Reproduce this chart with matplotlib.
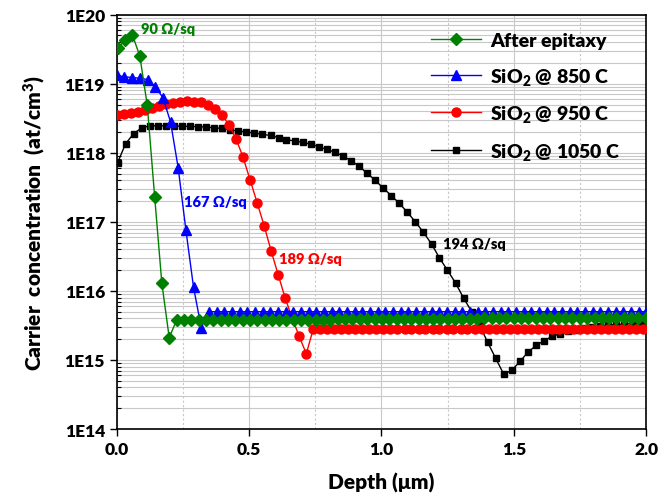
import matplotlib
matplotlib.use("Agg")
from matplotlib import pyplot as plt
from matplotlib.ticker import FixedLocator, LogLocator, NullFormatter

plt.rcParams["font.family"] = ["Lato", "DejaVu Sans"]
plt.rcParams["font.weight"] = "heavy"
plt.rcParams["mathtext.default"] = "regular"

W = "heavy"

# ---- data ----
depth_epi = [0.004, 0.032, 0.059, 0.087, 0.115, 0.143, 0.170, 0.198, 0.226, 0.253,
             0.281, 0.309, 0.336, 0.364, 0.392, 0.420, 0.447, 0.475, 0.503, 0.530,
             0.558, 0.586, 0.613, 0.641, 0.669, 0.697, 0.724, 0.752, 0.780, 0.807,
             0.835, 0.863, 0.890, 0.918, 0.946, 0.974, 1.001, 1.029, 1.057, 1.084,
             1.112, 1.140, 1.167, 1.195, 1.223, 1.251, 1.278, 1.306, 1.334, 1.361,
             1.389, 1.417, 1.444, 1.472, 1.500, 1.528, 1.555, 1.583, 1.611, 1.638,
             1.666, 1.694, 1.721, 1.749, 1.777, 1.805, 1.832, 1.860, 1.888, 1.915,
             1.943, 1.971, 1.998]
conc_epi = [3.3e19, 4.3e19, 5.1e19, 2.5e19, 4.9e18, 2.3e17, 1.3e16, 2.1e15, 3.8e15, 3.8e15,
            3.8e15, 3.8e15, 3.8e15, 3.8e15, 3.8e15, 3.8e15, 3.8e15, 3.8e15, 3.8e15, 3.8e15,
            3.8e15, 3.8e15, 3.8e15, 3.8e15, 3.8e15, 3.8e15, 3.8e15, 3.8e15, 3.8e15, 3.8e15,
            3.9e15, 3.9e15, 3.9e15, 3.9e15, 3.9e15, 3.9e15, 3.9e15, 3.9e15, 3.9e15, 3.9e15,
            3.9e15, 3.9e15, 3.9e15, 3.9e15, 3.9e15, 3.9e15, 3.9e15, 3.9e15, 3.9e15, 3.9e15,
            4.0e15, 4.0e15, 4.0e15, 4.0e15, 4.0e15, 4.0e15, 4.0e15, 4.0e15, 4.0e15, 4.0e15,
            4.0e15, 4.0e15, 4.0e15, 4.0e15, 4.0e15, 4.0e15, 4.0e15, 4.0e15, 4.0e15, 4.0e15,
            4.0e15, 4.0e15, 4.0e15]

depth_850 = [0.000, 0.029, 0.058, 0.087, 0.116, 0.145, 0.174, 0.203, 0.232, 0.261,
             0.290, 0.319, 0.348, 0.377, 0.406, 0.435, 0.464, 0.493, 0.522, 0.551,
             0.580, 0.609, 0.638, 0.667, 0.696, 0.725, 0.754, 0.783, 0.812, 0.841,
             0.870, 0.899, 0.928, 0.957, 0.986, 1.015, 1.044, 1.073, 1.102, 1.131,
             1.160, 1.189, 1.218, 1.247, 1.276, 1.305, 1.334, 1.363, 1.392, 1.421,
             1.450, 1.479, 1.508, 1.537, 1.566, 1.595, 1.624, 1.653, 1.682, 1.711,
             1.740, 1.769, 1.798, 1.827, 1.856, 1.885, 1.914, 1.943, 1.972, 2.001]
conc_850 = [1.32e19, 1.26e19, 1.23e19, 1.20e19, 1.15e19, 9.1e18, 6.3e18, 2.8e18, 6.0e17, 7.6e16,
            1.12e16, 2.95e15, 5.0e15, 5.0e15, 5.0e15, 5.0e15, 5.0e15, 5.0e15, 5.0e15, 5.0e15,
            5.0e15, 5.0e15, 5.0e15, 5.0e15, 5.0e15, 5.0e15, 5.0e15, 5.0e15, 5.0e15, 5.0e15,
            5.0e15, 5.0e15, 5.0e15, 5.0e15, 5.0e15, 5.0e15, 5.0e15, 5.0e15, 5.0e15, 5.0e15,
            5.0e15, 5.0e15, 5.0e15, 5.0e15, 5.0e15, 5.0e15, 5.0e15, 5.0e15, 5.0e15, 5.0e15,
            5.0e15, 5.0e15, 5.0e15, 5.0e15, 5.0e15, 5.0e15, 5.0e15, 5.0e15, 5.0e15, 5.0e15,
            5.0e15, 5.0e15, 5.0e15, 5.0e15, 5.0e15, 5.0e15, 5.0e15, 5.0e15, 5.0e15, 5.0e15]

depth_950 = [0.000, 0.027, 0.053, 0.080, 0.106, 0.133, 0.159, 0.186, 0.212, 0.239,
             0.265, 0.292, 0.318, 0.345, 0.371, 0.398, 0.424, 0.451, 0.477, 0.504,
             0.530, 0.557, 0.583, 0.610, 0.636, 0.663, 0.689, 0.716, 0.742, 0.769,
             0.795, 0.822, 0.848, 0.875, 0.901, 0.928, 0.954, 0.981, 1.007, 1.034,
             1.060, 1.087, 1.113, 1.140, 1.166, 1.193, 1.219, 1.246, 1.272, 1.299,
             1.325, 1.352, 1.378, 1.405, 1.431, 1.458, 1.484, 1.511, 1.537, 1.564,
             1.590, 1.617, 1.643, 1.670, 1.696, 1.723, 1.749, 1.776, 1.802, 1.829,
             1.855, 1.882, 1.908, 1.935, 1.961, 1.988]
conc_950 = [3.52e18, 3.65e18, 3.77e18, 3.94e18, 4.21e18, 4.50e18, 4.81e18, 5.09e18, 5.33e18, 5.50e18,
            5.57e18, 5.50e18, 5.38e18, 4.92e18, 4.31e18, 3.52e18, 2.53e18, 1.58e18, 8.6e17, 4.0e17,
            1.9e17, 8.7e16, 3.8e16, 1.7e16, 7.9e15, 4.0e15, 2.2e15, 1.23e15, 2.8e15, 2.8e15,
            2.8e15, 2.8e15, 2.8e15, 2.8e15, 2.8e15, 2.8e15, 2.8e15, 2.8e15, 2.8e15, 2.8e15,
            2.8e15, 2.8e15, 2.8e15, 2.8e15, 2.8e15, 2.8e15, 2.8e15, 2.8e15, 2.8e15, 2.8e15,
            2.8e15, 2.8e15, 2.8e15, 2.8e15, 2.8e15, 2.8e15, 2.8e15, 2.8e15, 2.8e15, 2.8e15,
            2.8e15, 2.8e15, 2.8e15, 2.8e15, 2.8e15, 2.8e15, 2.8e15, 2.8e15, 2.8e15, 2.8e15,
            2.8e15, 2.8e15, 2.8e15, 2.8e15, 2.8e15, 2.8e15]

depth_1050 = [0.003, 0.033, 0.064, 0.094, 0.125, 0.155, 0.185, 0.216, 0.246, 0.277,
              0.307, 0.337, 0.368, 0.398, 0.429, 0.459, 0.489, 0.520, 0.550, 0.581,
              0.611, 0.641, 0.672, 0.702, 0.733, 0.763, 0.793, 0.824, 0.854, 0.885,
              0.915, 0.945, 0.976, 1.006, 1.037, 1.067, 1.097, 1.128, 1.158, 1.189,
              1.219, 1.249, 1.280, 1.310, 1.341, 1.371, 1.401, 1.432, 1.462, 1.493,
              1.523, 1.553, 1.584, 1.614, 1.645, 1.675, 1.705, 1.736, 1.766, 1.797,
              1.827, 1.857, 1.888, 1.918, 1.949, 1.979]
conc_1050 = [7.2e17, 1.35e18, 1.9e18, 2.3e18, 2.45e18, 2.46e18, 2.45e18, 2.44e18, 2.42e18, 2.41e18,
             2.39e18, 2.36e18, 2.30e18, 2.25e18, 2.14e18, 2.07e18, 2.00e18, 1.93e18, 1.85e18, 1.78e18,
             1.66e18, 1.55e18, 1.48e18, 1.42e18, 1.33e18, 1.22e18, 1.12e18, 1.02e18, 9.0e17, 7.7e17,
             6.4e17, 5.1e17, 4.0e17, 3.1e17, 2.4e17, 1.86e17, 1.39e17, 1.0e17, 7.1e16, 4.8e16,
             3.0e16, 2.0e16, 1.3e16, 7.9e15, 5.0e15, 3.2e15, 1.8e15, 1.05e15, 6.2e14, 7.1e14,
             9.5e14, 1.29e15, 1.62e15, 1.9e15, 2.2e15, 2.4e15, 2.6e15, 2.75e15, 2.9e15, 3.0e15,
             3.15e15, 3.2e15, 3.25e15, 3.3e15, 3.35e15, 3.4e15]

labels = ["After epitaxy", "SiO$_2$ @ 850 C", "SiO$_2$ @ 950 C", "SiO$_2$ @ 1050 C"]
sheet_res = ["90 Ω/sq", "167 Ω/sq", "189 Ω/sq", "194 Ω/sq"]
note_pos = [(0.091, 6.2e19), (0.253, 2.0e17), (0.612, 2.9e16), (1.233, 4.8e16)]
ytick_vals = [1e14, 1e15, 1e16, 1e17, 1e18, 1e19, 1e20]
ytick_labels = ["1E14", "1E15", "1E16", "1E17", "1E18", "1E19", "1E20"]
xtick_vals = [0.0, 0.5, 1.0, 1.5, 2.0]

colors = ["#008000", "#0000ff", "#ff0000", "#000000"]
markers = ["D", "^", "o", "s"]
msizes = [6, 7, 6.5, 5]

fig = plt.figure(figsize=(6.6, 5.02), dpi=100)
ax = fig.add_axes([0.177, 0.1434, 0.802, 0.8254])

series = [(depth_epi, conc_epi), (depth_850, conc_850),
          (depth_950, conc_950), (depth_1050, conc_1050)]
handles = []
for i, (d, c) in enumerate(series):
    h, = ax.plot(d, c, color=colors[i], marker=markers[i], ms=msizes[i],
                 lw=1, mec=colors[i], label=labels[i], zorder=10 - i)
    handles.append(h)

for i, (x, y) in enumerate(note_pos):
    ax.text(x, y, sheet_res[i], color=colors[i], fontsize=10.5,
            fontweight=W, ha="left", va="center", zorder=20)

ax.set_yscale("log")
ax.set_xlim(0, 2.0)
ax.set_ylim(1e14, 1e20)
ax.set_yticks(ytick_vals)
ax.set_yticklabels(ytick_labels)
ax.yaxis.set_minor_locator(LogLocator(base=10, subs=range(2, 10), numticks=20))
ax.yaxis.set_minor_formatter(NullFormatter())
ax.set_xticks(xtick_vals)
ax.set_xticklabels([f"{v:.1f}" for v in xtick_vals])
ax.xaxis.set_minor_locator(FixedLocator([0.25, 0.75, 1.25, 1.75]))

ax.grid(True, which="major", color="#c8c8c8", lw=0.8)
ax.grid(True, which="minor", axis="y", color="#c8c8c8", lw=0.8)
ax.grid(True, which="minor", axis="x", color="#c8c8c8", lw=0.8, ls=(0, (2, 2)))
ax.set_axisbelow(True)

ax.tick_params(axis="both", which="major", direction="out", length=5, width=1,
               labelsize=12.5)
ax.tick_params(axis="y", which="minor", direction="in", length=3, width=0.8)
ax.tick_params(axis="x", which="minor", length=0)
for lab in ax.get_xticklabels() + ax.get_yticklabels():
    lab.set_fontweight(W)
for sp in ax.spines.values():
    sp.set_linewidth(1.2)

ax.set_xlabel("Depth (μm)", fontsize=15, fontweight=W, labelpad=11)
ax.set_ylabel("Carrier  concentration  (at/cm$^3$)", fontsize=15,
              fontweight=W, labelpad=12)

ax.legend(handles=handles, loc="upper right", bbox_to_anchor=(0.985, 1.0),
          frameon=False, handlelength=2.6, handletextpad=0.45, labelspacing=0.85,
          prop={"weight": W, "size": 14})

fig.savefig("out.png", dpi=100)
